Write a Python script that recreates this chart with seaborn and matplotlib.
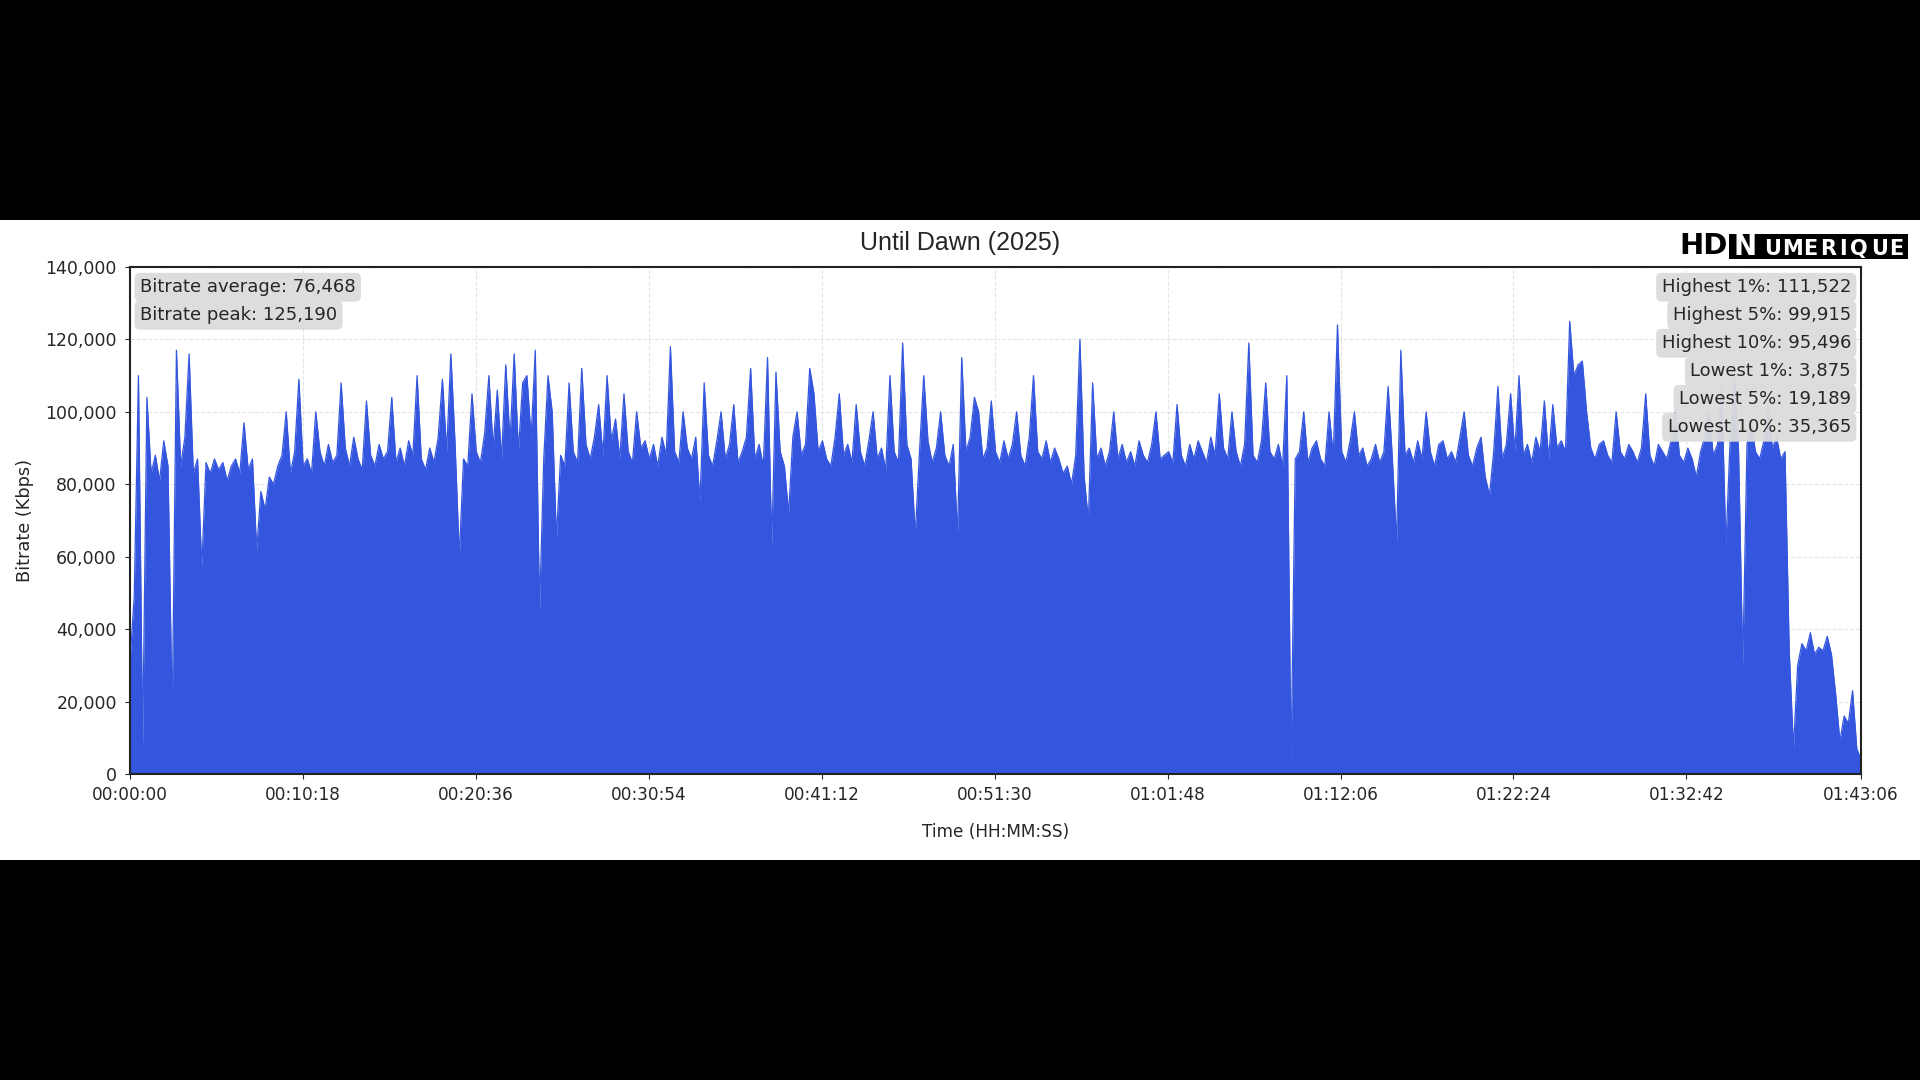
import matplotlib
matplotlib.use("Agg")
import numpy as np
import pandas as pd
import matplotlib.pyplot as plt
import seaborn as sns
from matplotlib.patches import Rectangle
from matplotlib.ticker import FuncFormatter

# Bitrate samples in thousands of Kbps, one list per x tick interval (~15 s per sample)
seg_01 = [31, 49, 110, 8, 104, 83, 88, 81, 92, 85, 16, 117, 85, 93, 116, 83, 87, 57, 86, 83, 87,
          84, 86, 81, 85, 87, 83, 97, 84, 87, 62, 78, 73, 82, 80, 85, 88, 100, 83, 89, 109]
seg_02 = [85, 87, 83, 100, 89, 85, 91, 86, 88, 108, 90, 85, 93, 87, 84, 103, 88, 85, 91, 87, 89,
          104, 86, 90, 85, 92, 88, 110, 87, 84, 90, 86, 93, 109, 89, 116, 91, 60, 87, 85, 105]
seg_03 = [89, 86, 94, 110, 90, 106, 87, 113, 92, 116, 89, 108, 110, 93, 117, 45, 87, 110, 100, 65, 88,
          85, 108, 89, 86, 112, 91, 87, 93, 102, 88, 110, 92, 98, 87, 105, 89, 86, 100, 90, 92]
seg_04 = [87, 91, 85, 93, 88, 118, 89, 86, 100, 90, 87, 93, 75, 108, 88, 85, 92, 100, 87, 91, 102,
          86, 89, 93, 112, 87, 91, 85, 115, 63, 111, 89, 85, 72, 93, 100, 88, 91, 112, 105, 89]
seg_05 = [92, 87, 85, 93, 105, 88, 91, 86, 102, 89, 85, 92, 100, 87, 90, 84, 110, 89, 86, 119, 91,
          87, 66, 89, 110, 92, 86, 90, 100, 88, 85, 91, 66, 115, 89, 93, 104, 100, 87, 90, 103]
seg_06 = [89, 86, 92, 87, 91, 100, 88, 85, 93, 110, 89, 87, 92, 86, 90, 87, 83, 85, 80, 88, 120,
          82, 70, 108, 87, 90, 85, 89, 100, 87, 91, 86, 89, 85, 92, 88, 86, 91, 100, 87, 88]
seg_07 = [89, 86, 102, 88, 85, 91, 87, 92, 89, 86, 93, 88, 105, 90, 87, 100, 89, 85, 91, 119, 88,
          86, 92, 108, 89, 87, 91, 85, 110, 3, 87, 89, 100, 86, 90, 92, 87, 85, 100, 88, 124]
seg_08 = [89, 86, 92, 100, 88, 90, 85, 87, 91, 86, 89, 107, 87, 64, 117, 88, 90, 86, 92, 87, 100,
          89, 85, 91, 92, 87, 89, 86, 93, 100, 88, 85, 90, 93, 82, 77, 89, 107, 87, 91, 105]
seg_09 = [89, 110, 88, 91, 86, 93, 89, 103, 87, 102, 90, 92, 89, 125, 110, 113, 114, 100, 90, 87, 91,
          92, 88, 86, 100, 89, 87, 91, 89, 86, 90, 105, 88, 85, 91, 89, 87, 92, 100, 88, 86]
seg_10 = [90, 87, 82, 89, 93, 100, 88, 91, 107, 63, 92, 110, 89, 30, 91, 97, 89, 87, 92, 102, 90,
          93, 87, 89, 34, 7, 30, 36, 34, 39, 33, 35, 34, 38, 33, 22, 9, 16, 14, 23, 7, 4]

x_tick_labels = ["00:00:00", "00:10:18", "00:20:36", "00:30:54", "00:41:12", "00:51:30",
                 "01:01:48", "01:12:06", "01:22:24", "01:32:42", "01:43:06"]
y_ticks = [0, 20000, 40000, 60000, 80000, 100000, 120000, 140000]

left_names = ["Bitrate average", "Bitrate peak"]
left_values = [76468, 125190]
right_names = ["Highest 1%", "Highest 5%", "Highest 10%", "Lowest 1%", "Lowest 5%", "Lowest 10%"]
right_values = [111522, 99915, 95496, 3875, 19189, 35365]

title = "Until Dawn (2025)"


def to_seconds(label):
    h, m, s = [int(p) for p in label.split(":")]
    return h * 3600 + m * 60 + s


x_ticks = [to_seconds(l) for l in x_tick_labels]
total = x_ticks[-1]

bitrate = np.array(seg_01 + seg_02 + seg_03 + seg_04 + seg_05 + seg_06 + seg_07 + seg_08 + seg_09 + seg_10) * 1000
df = pd.DataFrame({"time": np.linspace(0, total, len(bitrate)), "bitrate": bitrate})

sns.set_style("ticks")
plt.rcParams["font.family"] = ["DejaVu Sans"]

blue = "#3456de"

fig = plt.figure(figsize=(19.2, 10.8), dpi=100, facecolor="black")
# white card between the black letterbox bands
fig.patches.append(Rectangle((0, 220 / 1080), 1, 640 / 1080, transform=fig.transFigure,
                             facecolor="white", edgecolor="none", zorder=-10))

ax = fig.add_axes([130 / 1920, 1 - 774 / 1080, 1731 / 1920, 507 / 1080])
ax.fill_between(df["time"], df["bitrate"], color=blue, linewidth=0)
sns.lineplot(data=df, x="time", y="bitrate", ax=ax, color=blue, linewidth=0.9)

ax.set_xlim(0, total)
ax.set_ylim(0, 140000)
ax.set_xticks(x_ticks)
ax.set_xticklabels(x_tick_labels, fontsize=12.2)
ax.set_yticks(y_ticks)
ax.yaxis.set_major_formatter(FuncFormatter(lambda v, _: f"{int(v):,}"))
ax.tick_params(axis="y", labelsize=12.5, pad=6)
ax.tick_params(axis="x", pad=5)
ax.set_axisbelow(True)
ax.grid(True, linestyle="--", color="#cccccc", alpha=0.5, linewidth=0.8)
for sp in ax.spines.values():
    sp.set_linewidth(1.5)
    sp.set_color("#222222")

ax.set_xlabel("Time (HH:MM:SS)", fontsize=12.2, labelpad=14)
ax.set_ylabel("Bitrate (Kbps)", fontsize=12.8, labelpad=8)
fig.text(0.5, 1 - 243 / 1080, title, fontsize=18, family=["Liberation Sans", "DejaVu Sans"],
         ha="center", va="center")

box = dict(boxstyle="round,pad=0.3", facecolor="#dcdcdc", edgecolor="none", alpha=0.95)
row = 28 / 507
for i, (n, v) in enumerate(zip(left_names, left_values)):
    ax.text(0.0058, 0.960 - i * row, f"{n}: {v:,}", transform=ax.transAxes, fontsize=13,
            ha="left", va="center", bbox=box, zorder=5)
for i, (n, v) in enumerate(zip(right_names, right_values)):
    ax.text(0.9942, 0.960 - i * row, f"{n}: {v:,}", transform=ax.transAxes, fontsize=13,
            ha="right", va="center", bbox=box, zorder=5)

# HD Numerique logo
fig.text(1679 / 1920, 1 - 246 / 1080, "HD", fontsize=21, weight="heavy", color="black",
         ha="left", va="center")
fig.patches.append(Rectangle((1729 / 1920, 1 - 259 / 1080), 179 / 1920, 25 / 1080,
                             transform=fig.transFigure, facecolor="black", edgecolor="none", zorder=1))
fig.text(1734 / 1920, 1 - 247 / 1080, "N", fontsize=20, weight="bold", color="white",
         ha="left", va="center", zorder=2)
logo_x = [1764, 1782, 1803, 1820, 1839, 1850, 1871, 1889]
for px, ch in zip(logo_x, "UMERIQUE"):
    fig.text(px / 1920, 1 - 249 / 1080, ch, fontsize=15, weight="bold",
             color="white", ha="left", va="center", zorder=2)

fig.savefig("out.png", dpi=100, facecolor=fig.get_facecolor())
